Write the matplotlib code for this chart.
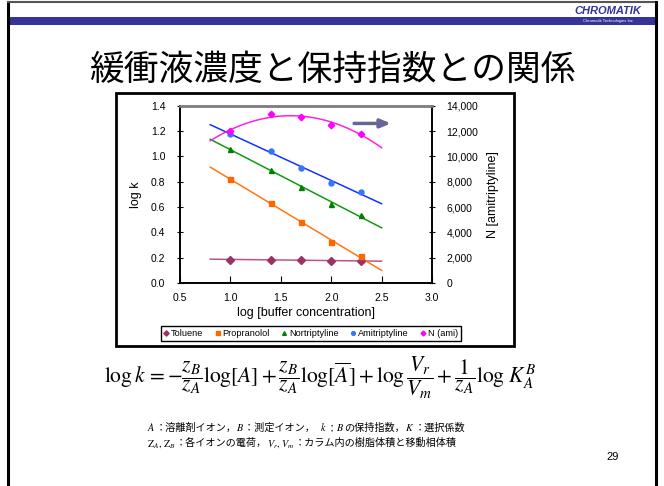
import matplotlib.pyplot as plt
import numpy as np
from matplotlib.patches import Rectangle

# ---- data ----
x_conc = [1.0, 1.4, 1.7, 2.0, 2.3]
toluene = [0.185, 0.185, 0.18, 0.175, 0.175]
propranolol = [0.82, 0.635, 0.48, 0.32, 0.21]
nortriptyline = [1.055, 0.895, 0.76, 0.62, 0.535]
amitriptyline = [1.175, 1.045, 0.91, 0.79, 0.715]
n_ami = [12000, 13350, 13100, 12500, 11800]
series_names = ['Toluene', 'Propranolol', 'Nortriptyline', 'Amitriptyline', 'N (ami)']

plt.rcParams['mathtext.fontset'] = 'stix'
sans = ['Liberation Sans', 'DejaVu Sans']
cjk = ['Noto Sans CJK JP', 'DejaVu Sans']

fig = plt.figure(figsize=(6.64, 4.86), dpi=100)
W, H = 664, 486

def fx(px):
    return px / W

def fy(py):
    return 1 - py / H

# slide decorations
fig.add_artist(plt.Line2D([fx(8), fx(8)], [0, fy(2)], color='black', lw=2.2))
fig.add_artist(plt.Line2D([fx(8), fx(656)], [fy(2), fy(2)], color='#555555', lw=1.5))
fig.add_artist(plt.Line2D([fx(656), fx(656)], [0, fy(2)], color='black', lw=2.2))
fig.add_artist(Rectangle((fx(10), fy(25)), fx(645), 8 / H, color='#333399', lw=0))
fig.text(fx(608), fy(11), 'CHROMATIK', color='#333399', fontsize=8, fontweight='bold',
         style='italic', ha='center', va='center', family=sans)
fig.text(fx(608), fy(21), 'Chromatik Technologies Inc', color='white', fontsize=3,
         ha='center', va='center', family=sans)

fig.text(0.5, fy(70), '緩衝液濃度と保持指数との関係', fontsize=25, ha='center',
         va='center', family=cjk)

# chart frame
fig.add_artist(Rectangle((fx(116), fy(346)), fx(514 - 116), (346 - 93) / H,
                         fill=False, ec='black', lw=2))

ax = fig.add_axes([fx(180), fy(283), fx(432 - 180), (283 - 105.7) / H])
ax2 = ax.twinx()

colors = {'Toluene': '#993366', 'Propranolol': '#FF6600', 'Nortriptyline': '#008000',
          'Amitriptyline': '#3377FF', 'N (ami)': '#FF00FF'}
line_colors = {'Toluene': '#BB5588', 'Propranolol': '#FF7711', 'Nortriptyline': '#119911',
               'Amitriptyline': '#1133FF', 'N (ami)': '#FF22DD'}
markers = {'Toluene': 'D', 'Propranolol': 's', 'Nortriptyline': '^',
           'Amitriptyline': 'o', 'N (ami)': 'D'}

xfit = np.linspace(0.8, 2.5, 100)
handles = []
for name, vals in zip(series_names[:4], [toluene, propranolol, nortriptyline, amitriptyline]):
    coef = np.polyfit(x_conc, vals, 1)
    ax.plot(xfit, np.polyval(coef, xfit), color=line_colors[name], lw=1.1, zorder=2)
    h, = ax.plot(x_conc, vals, ls='none', marker=markers[name], color=colors[name],
                 ms=3.6, zorder=3, label=name)
    handles.append(h)

coef = np.polyfit(x_conc, n_ami, 2)
ax2.plot(xfit, np.polyval(coef, xfit), color=line_colors['N (ami)'], lw=1.1)
h, = ax2.plot(x_conc, n_ami, ls='none', marker='D', color=colors['N (ami)'], ms=3.3,
              label='N (ami)')
handles.append(h)

ax.set_xlim(0.5, 3.0)
ax.set_ylim(0, 1.4)
ax2.set_ylim(0, 14000)
ax.set_xticks(np.arange(0.5, 3.01, 0.5))
ax.set_yticks(np.arange(0, 1.41, 0.2))
ax2.set_yticks(np.arange(0, 14001, 2000))
ax.set_xticklabels([f'{v:.1f}' for v in np.arange(0.5, 3.01, 0.5)], family=sans, fontsize=7.5)
ax.set_yticklabels([f'{v:.1f}' for v in np.arange(0, 1.41, 0.2)], family=sans, fontsize=7.5)
ax2.set_yticklabels([f'{int(v):,}' for v in np.arange(0, 14001, 2000)], family=sans, fontsize=7.5)
ax.tick_params(axis='x', direction='in', length=5, width=0.8, pad=7)
ax.tick_params(axis='y', direction='inout', length=5, width=0.8, pad=8)
ax2.tick_params(axis='y', direction='inout', length=5, width=0.8, pad=8)

for a in (ax, ax2):
    a.spines['top'].set_color('#808080')
    a.spines['top'].set_linewidth(1.8)
    for s in ('left', 'right', 'bottom'):
        a.spines[s].set_linewidth(1.2)

ax.set_xlabel('log [buffer concentration]', family=sans, fontsize=9, labelpad=3)
ax.set_ylabel('log k', family=sans, fontsize=9, labelpad=6)
ax2.set_ylabel('N [amitriptyline]', family=sans, fontsize=9, rotation=90, labelpad=6)

ax.annotate('', xy=(2.62, 1.26), xytext=(2.2, 1.26),
            arrowprops=dict(arrowstyle='-|>,head_length=0.6,head_width=0.25',
                            color='#666699', lw=2.5))

fig.legend(handles=handles, loc='center', bbox_to_anchor=(fx(311), fy(333.5)), ncol=5,
           frameon=True, fancybox=False, edgecolor='black', framealpha=1,
           handlelength=0.5, handletextpad=0.3, columnspacing=1.3, borderpad=0.35,
           markerscale=0.75, prop={'family': sans, 'size': 6.6})

# formula
fig.text(fx(320), fy(378),
         r'$\log k\,=-\dfrac{z_B}{z_A}\log[A]+\dfrac{z_B}{z_A}\log[\overline{A}]'
         r'+\log\dfrac{V_r}{V_m}+\dfrac{1}{z_A}\log\,K_A^B$',
         fontsize=15.5, ha='center', va='center')

# notes: segments drawn one after another
renderer = fig.canvas.get_renderer()

def rich_line(x, y, parts, size):
    for s, fam in parts:
        t = fig.text(x, y, s, va='baseline', fontsize=size, family=fam)
        bb = t.get_window_extent(renderer=renderer)
        x = fig.transFigure.inverted().transform((bb.x1, bb.y1))[0]

rich_line(fx(147), fy(431), [
    (r'$A$', sans), ('：溶離剤イオン，', cjk), (r'$B$', sans), ('：測定イオン，  ', cjk),
    (r'$k$', sans), ('：', cjk), (r'$B$', sans), ('の保持指数，', cjk),
    (r'$K$', sans), ('：選択係数', cjk)], 7.3)
rich_line(fx(147), fy(446), [
    (r'$\mathrm{Z}_A,\,\mathrm{Z}_B$', sans), ('：各イオンの電荷，', cjk),
    (r'$V_r,\,V_m$', sans), ('：カラム内の樹脂体積と移動相体積', cjk)], 7.3)

fig.text(fx(613), fy(457), '29', fontsize=8, ha='center', va='center', family=sans)

plt.savefig('out.png', dpi=100)
